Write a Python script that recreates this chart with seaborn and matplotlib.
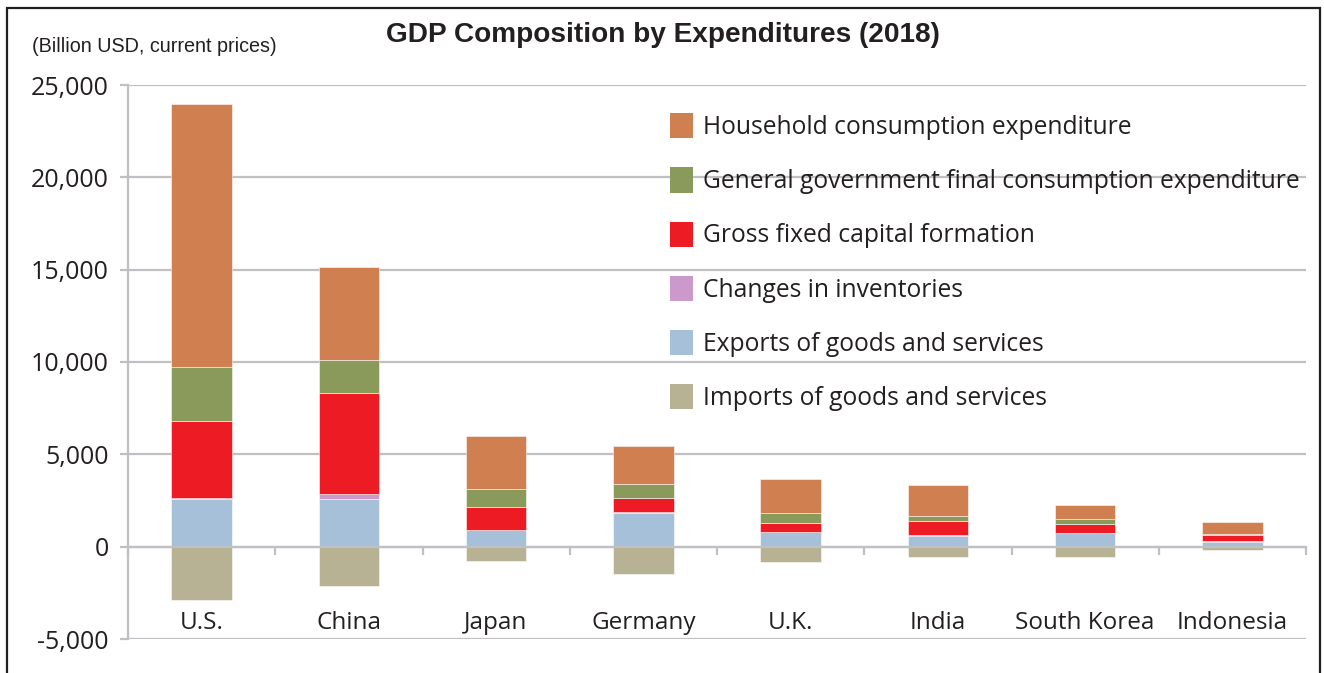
import matplotlib
matplotlib.use("Agg")
import matplotlib.pyplot as plt
import matplotlib.patches as mpatches
import numpy as np
import seaborn as sns

countries = ["U.S.", "China", "Japan", "Germany", "U.K.", "India", "South Korea", "Indonesia"]
household = [14200, 5040, 2900, 2080, 1830, 1666, 790, 663]
government = [2920, 1820, 980, 765, 534, 287, 268, 72]
gfcf = [4210, 5480, 1235, 740, 470, 757, 482, 310]
inventories = [50, 223, 10, 60, 10, 50, 20, 30]
exports = [2565, 2602, 890, 1815, 801, 573, 717, 269]
imports = [-2880, -2140, -800, -1460, -835, -540, -555, -180]

series_names = [
    "Household consumption expenditure",
    "General government final consumption expenditure",
    "Gross fixed capital formation",
    "Changes in inventories",
    "Exports of goods and services",
    "Imports of goods and services",
]
colors = {
    "Household consumption expenditure": "#D08050",
    "General government final consumption expenditure": "#8A9A5B",
    "Gross fixed capital formation": "#ED1C24",
    "Changes in inventories": "#CC99CC",
    "Exports of goods and services": "#A7C0DA",
    "Imports of goods and services": "#B8B294",
}

sns.set_theme(style="white")
plt.rcParams["font.family"] = ["Open Sans", "DejaVu Sans"]

fig = plt.figure(figsize=(13.24, 6.73), dpi=100)
ax = fig.add_axes([128 / 1324, 1 - 639 / 673, (1306 - 128) / 1324, (639 - 85) / 673])

stack_order = [
    ("Exports of goods and services", exports),
    ("Changes in inventories", inventories),
    ("Gross fixed capital formation", gfcf),
    ("General government final consumption expenditure", government),
    ("Household consumption expenditure", household),
]
bottom = np.zeros(len(countries))
bw = 0.41
for name, vals in stack_order:
    vals = np.array(vals, dtype=float)
    sns.barplot(x=countries, y=vals, bottom=bottom, color=colors[name], width=bw,
                saturation=1, ax=ax, edgecolor=(1, 1, 1, 0.6), linewidth=0.6, zorder=3)
    bottom = bottom + vals
sns.barplot(x=countries, y=np.array(imports, dtype=float), color=colors["Imports of goods and services"],
            width=bw, saturation=1, ax=ax, edgecolor=(1, 1, 1, 0.6), linewidth=0.6, zorder=3)

ax.set_xlim(-0.5, len(countries) - 0.5)
ax.set_ylim(-5000, 25000)
ax.set_yticks(np.arange(-5000, 25001, 5000))
ax.set_yticklabels([f"{v:,}" for v in range(-5000, 25001, 5000)])
grid_color = "#BFBFC4"
ax.yaxis.grid(True, color=grid_color, linewidth=1.6, zorder=0)
ax.set_axisbelow(True)

for s in ["top", "right"]:
    ax.spines[s].set_visible(False)
ax.spines["left"].set_color(grid_color)
ax.spines["left"].set_linewidth(1.6)
ax.spines["bottom"].set_position(("data", 0))
ax.spines["bottom"].set_color(grid_color)
ax.spines["bottom"].set_linewidth(1.6)
ax.spines["bottom"].set_zorder(4)

ax.tick_params(axis="y", which="major", left=True, length=6, width=1.6, color=grid_color,
               labelsize=18, labelcolor="#231F20", pad=8)
ax.set_xticks(np.arange(len(countries)))
ax.set_xticks(np.arange(-0.5, len(countries), 1.0), minor=True)
ax.tick_params(axis="x", which="major", length=0, labelsize=17.5, labelcolor="#231F20", pad=46)
ax.tick_params(axis="x", which="minor", bottom=True, length=6, width=1.6, color=grid_color, direction="out")
ax.set_xlabel("")
ax.set_ylabel("")

handles = [mpatches.Patch(facecolor=colors[n], edgecolor="none") for n in series_names]
leg = ax.legend(handles, series_names, loc="upper left", bbox_to_anchor=(0.4414, 0.989),
                frameon=False, fontsize=17.7, handlelength=0.95, handleheight=1.2,
                handletextpad=0.4, labelspacing=1.11, labelcolor="#231F20")

fig.text(663 / 1324, 1 - 35 / 673, "GDP Composition by Expenditures (2018)", ha="center", va="center",
         fontsize=20.2, fontweight="bold", family=["Liberation Sans", "DejaVu Sans"], color="#231F20")
fig.text(32 / 1324, 1 - 46 / 673, "(Billion USD, current prices)", ha="left", va="center",
         fontsize=14.2, family=["Liberation Sans", "DejaVu Sans"], color="#231F20")

frame = mpatches.Rectangle((7 / 1324, -0.2), (1320 - 7) / 1324, 1.2 - 8 / 673, transform=fig.transFigure,
                           fill=False, edgecolor="#231F20", linewidth=1.6, clip_on=False)
fig.patches.append(frame)

fig.savefig("out.png", dpi=100)
